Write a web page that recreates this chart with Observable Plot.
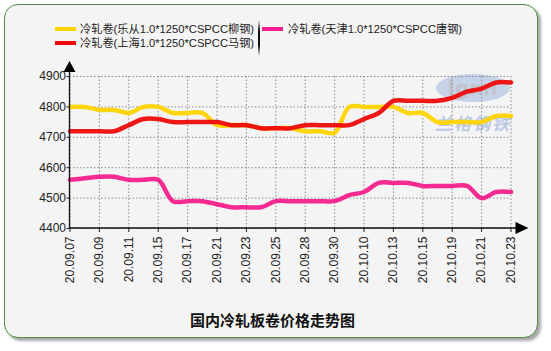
<!DOCTYPE html>
<html><head><meta charset="utf-8">
<script src="https://cdn.jsdelivr.net/npm/d3@7"></script>
<script src="https://cdn.jsdelivr.net/npm/@observablehq/plot@0.6"></script>
<style>
body{margin:0;background:#fff;font-family:"Liberation Sans","Noto Sans CJK SC",sans-serif;}
#wrap{position:relative;width:551px;height:351px;overflow:hidden;}
#frame{position:absolute;left:4px;top:4px;width:532px;height:332px;border:1.5px solid #4f8f3f;border-radius:14px;background:#f4f4f4;box-shadow:3px 3px 3px rgba(0,0,0,0.35);}
#chart{position:absolute;left:0;top:0;}
.leg{position:absolute;font-size:11.2px;color:#222;white-space:nowrap;line-height:14px;}
.sw{position:absolute;height:4px;}
#sep{position:absolute;left:258px;top:20px;width:2px;height:36px;background:linear-gradient(#f4f4f4,#111 30%,#111 70%,#f4f4f4);}
#title{position:absolute;left:0;width:545px;top:309px;text-align:center;font-size:15px;font-weight:bold;color:#111;font-family:"Noto Sans CJK SC",sans-serif;}
#logo{position:absolute;left:434px;top:74px;width:78px;height:60px;opacity:0.55;}
</style></head>
<body>
<div id="wrap">
  <div id="frame"></div>
  <div id="logo">
    <div style="position:absolute;left:2px;top:0;width:74px;height:28px;border-radius:50%;background:#9fb8dd;"></div>
    <div style="position:absolute;left:0;top:3px;width:78px;text-align:center;font:bold 19px 'DejaVu Sans';color:#9a9aa8;letter-spacing:1px;">lgmi</div>
    <div style="position:absolute;left:0;top:36px;width:78px;text-align:center;font:italic bold 17px 'Noto Sans CJK SC';color:#8fa9d3;letter-spacing:2px;">兰格钢铁</div>
  </div>
  <div id="chart"></div>
  <div id="legend"></div>
  <div id="sep"></div>
  <div id="title">国内冷轧板卷价格走势图</div>
</div>
<script>
const dates = ["20.09.07","20.09.08","20.09.09","20.09.10","20.09.11","20.09.14","20.09.15","20.09.16","20.09.17","20.09.18",
  "20.09.21","20.09.22","20.09.23","20.09.24","20.09.25","20.09.27","20.09.28","20.09.29","20.09.30","20.10.09",
  "20.10.10","20.10.12","20.10.13","20.10.14","20.10.15","20.10.16","20.10.19","20.10.20","20.10.21","20.10.22","20.10.23"];
const seriesNames = ["冷轧卷(乐从1.0*1250*CSPCC柳钢)","冷轧卷(上海1.0*1250*CSPCC马钢)","冷轧卷(天津1.0*1250*CSPCC唐钢)"];
const liugang = [4800,4800,4790,4790,4780,4800,4800,4780,4780,4780,4740,4740,4740,4730,4730,4730,4720,4720,4715,4800,4800,4800,4800,4780,4780,4750,4750,4750,4750,4770,4770];
const magang  = [4720,4720,4720,4720,4740,4760,4760,4750,4750,4750,4750,4740,4740,4730,4730,4730,4740,4740,4740,4740,4760,4780,4820,4820,4820,4820,4830,4850,4860,4880,4880];
const tanggang= [4560,4565,4570,4570,4560,4560,4560,4490,4490,4490,4480,4470,4470,4470,4490,4490,4490,4490,4490,4510,4520,4550,4550,4550,4540,4540,4540,4540,4500,4520,4520];
const colors = ["#ffd400","#ee0a0a","#f5208c"];
const yTicks = [4400,4500,4600,4700,4800,4900];
const xTickIdx = dates.map((d,i)=>i).filter(i=>i%2===0);

const values = [liugang, magang, tanggang];
const rows = [];
values.forEach((arr,s)=>arr.forEach((v,i)=>rows.push({i, date:dates[i], value:v, series:seriesNames[s]})));

const lineOpts = {x:"i", y:"value", stroke:"series", strokeWidth:4.5, curve:"catmull-rom", strokeOpacity:0.95};
const plot = Plot.plot({
  width:551, height:351,
  marginLeft:69.5, marginRight:40.5, marginTop:76, marginBottom:123,
  style:{background:"transparent", fontFamily:"'Liberation Sans','Noto Sans CJK SC',sans-serif", fontSize:"12px", color:"#222", overflow:"visible"},
  x:{type:"linear", domain:[0,30]},
  y:{domain:[4400,4900]},
  color:{domain:seriesNames, range:colors},
  marks:[
    Plot.gridX(xTickIdx,{stroke:"#8a8a8a", strokeOpacity:1, strokeDasharray:"1.5,2"}),
    Plot.gridY(yTicks,{stroke:"#8a8a8a", strokeOpacity:1, strokeDasharray:"1.5,2"}),
    Plot.line(rows.filter(r=>r.series===seriesNames[2]), lineOpts),
    Plot.line(rows.filter(r=>r.series===seriesNames[0]), lineOpts),
    Plot.line(rows.filter(r=>r.series===seriesNames[1]), lineOpts),
    Plot.axisX(xTickIdx,{tickFormat:i=>dates[i], tickRotate:-90, tickSize:4, tickPadding:4, label:null, fontSize:12, stroke:"#222", fill:"#222"}),
    Plot.axisY(yTicks,{tickFormat:d=>String(d), tickSize:3, tickPadding:1, label:null, fontSize:12, stroke:"#222", fill:"#222"})
  ]
});
document.getElementById("chart").appendChild(plot);

// axis lines with arrows
const sx = plot.scale("x"), sy = plot.scale("y");
const svg = d3.select(plot);
const x0 = sx.apply(0), x1 = sx.apply(30), y0 = sy.apply(4400), y1 = sy.apply(4900);
const g = svg.append("g");
g.append("line").attr("x1",x0).attr("x2",x1+6).attr("y1",y0).attr("y2",y0).attr("stroke","#111").attr("stroke-width",1.3);
g.append("path").attr("d",`M${x1+18},${y0}L${x1+5},${y0-6}L${x1+5},${y0+6}Z`).attr("fill","#000");
g.append("line").attr("x1",x0).attr("x2",x0).attr("y1",y0).attr("y2",y1-6).attr("stroke","#111").attr("stroke-width",1.3);
g.append("path").attr("d",`M${x0},${y1-15}L${x0-6},${y1-4}L${x0+6},${y1-4}Z`).attr("fill","#000");

// legend
const legPos = [{sx:55, tx:80, y:22},{sx:55, tx:80, y:36},{sx:262, tx:288, y:22}];
const leg = document.getElementById("legend");
seriesNames.forEach((n,k)=>{
  const p = legPos[k];
  const sw = document.createElement("div");
  sw.className="sw"; sw.style.left=p.sx+"px"; sw.style.top=(p.y+5)+"px"; sw.style.width="21px"; sw.style.background=colors[k];
  leg.appendChild(sw);
  const t = document.createElement("div");
  t.className="leg"; t.style.left=p.tx+"px"; t.style.top=p.y+"px"; t.textContent=n;
  leg.appendChild(t);
});
</script>
</body></html>
